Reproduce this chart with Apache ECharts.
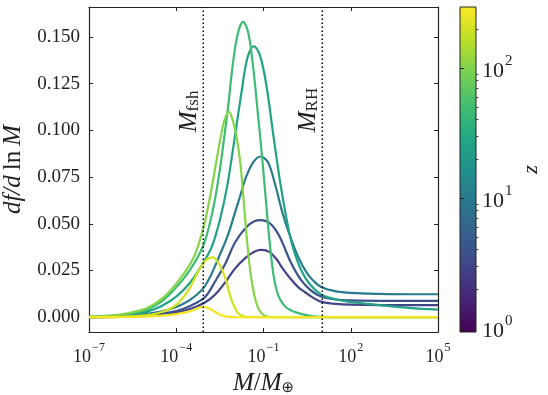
<!DOCTYPE html>
<html>
<head>
<meta charset="utf-8">
<script src="https://cdn.jsdelivr.net/npm/echarts@6/dist/echarts.min.js"></script>
<style>
  html, body { margin: 0; padding: 0; background: #fff; }
  #chart { width: 548px; height: 395px; }
</style>
</head>
<body>
<div id="chart"></div>
<script>
// curves: [log10(M/Mearth), df/dlnM], one per redshift
const yellow = [[-7, 0], [-6, 0.0001], [-5, 0.0004], [-4.5, 0.0009], [-4, 0.0017], [-3.5, 0.0033], [-3.25, 0.0049], [-3.05, 0.0055], [-2.85, 0.0046], [-2.65, 0.0027], [-2.45, 0.0011], [-2.25, 0.0003], [-2.0, 0], [5, 0]]
const yellowGreen = [[-7, 0], [-6, 0.0002], [-5, 0.0011], [-4.5, 0.0028], [-4, 0.0066], [-3.6, 0.014], [-3.36, 0.021], [-3.15, 0.027], [-2.95, 0.031], [-2.74, 0.032], [-2.55, 0.029], [-2.33, 0.0217], [-2.1, 0.0093], [-1.88, 0.0023], [-1.65, 0.0003], [-1.4, 0], [5, 0]]
const lightGreen = [[-7, 0.0003], [-6, 0.0013], [-5.5, 0.0027], [-5, 0.005], [-4.5, 0.0098], [-4, 0.018], [-3.5, 0.029], [-3.25, 0.038], [-3, 0.052], [-2.75, 0.072], [-2.5, 0.094], [-2.35, 0.105], [-2.19, 0.110], [-2.05, 0.105], [-1.92, 0.096], [-1.8, 0.083], [-1.68, 0.062], [-1.56, 0.040], [-1.45, 0.024], [-1.32, 0.012], [-1.2, 0.0055], [-1.05, 0.0018], [-0.9, 0.0005], [-0.7, 0.0001], [-0.4, 0], [5, 0]]
const green = [[-7, 0.0002], [-6, 0.001], [-5.5, 0.0022], [-5, 0.0042], [-4.5, 0.0085], [-4, 0.016], [-3.5, 0.026], [-3.08, 0.038], [-2.85, 0.05], [-2.67, 0.063], [-2.5, 0.079], [-2.36, 0.095], [-2.2, 0.115], [-2.05, 0.136], [-1.88, 0.152], [-1.7, 0.158], [-1.52, 0.152], [-1.35, 0.133], [-1.2, 0.11], [-1.05, 0.086], [-0.92, 0.063], [-0.8, 0.042], [-0.65, 0.022], [-0.5, 0.012], [-0.3, 0.0065], [-0.1, 0.004], [0.2, 0.0022], [0.6, 0.0008], [1, 0.0002], [1.5, 0], [5, 0]]
const tealGreen = [[-7, 0.0001], [-6, 0.0007], [-5.5, 0.0015], [-5, 0.003], [-4.5, 0.006], [-4, 0.011], [-3.5, 0.019], [-3, 0.031], [-2.77, 0.038], [-2.5, 0.052], [-2.25, 0.07], [-2, 0.095], [-1.75, 0.121], [-1.55, 0.139], [-1.33, 0.145], [-1.12, 0.14], [-0.9, 0.124], [-0.64, 0.095], [-0.44, 0.0735], [-0.2, 0.052], [0, 0.038], [0.3, 0.025], [0.6, 0.0175], [1, 0.012], [1.5, 0.0095], [2, 0.0082], [2.5, 0.0073], [3, 0.0065], [3.5, 0.0057], [4, 0.005], [4.5, 0.0045], [5, 0.0041]]
const teal = [[-7, 0.0001], [-6, 0.0005], [-5.5, 0.001], [-5, 0.0018], [-4.5, 0.0032], [-4, 0.0055], [-3.5, 0.0095], [-3, 0.017], [-2.43, 0.036], [-2.2, 0.045], [-2, 0.055], [-1.8, 0.065], [-1.6, 0.075], [-1.35, 0.083], [-1.1, 0.086], [-0.85, 0.083], [-0.6, 0.071], [-0.35, 0.056], [-0.1, 0.044], [0.2, 0.032], [0.5, 0.0235], [0.75, 0.019], [1, 0.016], [1.5, 0.0138], [2, 0.013], [3, 0.0125], [4, 0.0123], [5, 0.0123]]
const blue = [[-7, 0], [-6, 0.0003], [-5.5, 0.0006], [-5, 0.001], [-4.5, 0.0019], [-4, 0.0033], [-3.5, 0.0062], [-3, 0.011], [-2.67, 0.019], [-2.3, 0.029], [-1.98, 0.040], [-1.6, 0.048], [-1.3, 0.0515], [-1.07, 0.052], [-0.8, 0.0505], [-0.55, 0.046], [-0.38, 0.041], [-0.08, 0.03], [0.2, 0.022], [0.42, 0.0175], [0.7, 0.0135], [1, 0.011], [1.5, 0.0095], [2, 0.009], [3, 0.0088], [4, 0.0088], [5, 0.0088]]
const indigo = [[-7, 0], [-6, 0.0002], [-5.5, 0.0004], [-5, 0.0007], [-4.5, 0.0013], [-4, 0.0024], [-3.5, 0.0045], [-3, 0.008], [-2.67, 0.012], [-2.3, 0.019], [-1.98, 0.026], [-1.6, 0.032], [-1.3, 0.0352], [-1.07, 0.036], [-0.8, 0.035], [-0.55, 0.031], [-0.38, 0.027], [-0.09, 0.021], [0.2, 0.016], [0.42, 0.0135], [0.7, 0.0105], [1, 0.0082], [1.5, 0.0071], [2, 0.0067], [3, 0.0065], [4, 0.0065], [5, 0.0065]]

const xTicks = [1e-7, 1e-4, 1e-1, 1e2, 1e5]
const yTicks = [0, 0.025, 0.05, 0.075, 0.1, 0.125, 0.15]
const zTicks = [1, 10, 100]
const zMinorTicks = [2, 3, 4, 5, 6, 7, 8, 9, 20, 30, 40, 50, 60, 70, 80, 90, 200]

const M_FSH = 8.5e-4
const M_RH = 10.5
const Y_MIN = -0.0079
const Y_MAX = 0.166

const viridis = ['#440154', '#482475', '#414487', '#355f8d', '#2a788e', '#21918c', '#22a884', '#44bf70', '#7ad151', '#bddf26', '#fde725']

const FONT = 'Liberation Serif'

const curves = [
  { data: indigo, color: '#414487' },
  { data: blue, color: '#3b528b' },
  { data: teal, color: '#297b8e' },
  { data: tealGreen, color: '#20a386' },
  { data: green, color: '#3dbc74' },
  { data: lightGreen, color: '#86d549' },
  { data: yellowGreen, color: '#d2e21b' },
  { data: yellow, color: '#f5e61f' }
]

function pow10(v) {
  const e = Math.round(Math.log10(v))
  return '{b|10}{e|' + String(e).replace('-', '\u2212') + '}'
}

const chart = echarts.init(document.getElementById('chart'), null, { renderer: 'canvas' })

const supRich = size => ({
  b: { fontFamily: FONT, fontSize: size, color: '#222', verticalAlign: 'bottom', lineHeight: size + 6 },
  e: { fontFamily: FONT, fontSize: Math.round(size * 0.68), color: '#222', verticalAlign: 'top', lineHeight: size + 6, padding: [0, 0, 0, 1] }
})

const series = curves.map((c, i) => ({
  type: 'line',
  xAxisIndex: 0,
  yAxisIndex: 0,
  data: c.data.map(p => [Math.pow(10, p[0]), p[1]]),
  showSymbol: false,
  smooth: 0.35,
  lineStyle: { color: c.color, width: 2.2 },
  silent: true,
  z: 2 + i
}))

// dotted vertical lines at the two characteristic masses
;[M_FSH, M_RH].forEach(m => {
  series.push({
    type: 'line',
    xAxisIndex: 0,
    yAxisIndex: 0,
    data: [[m, Y_MIN], [m, Y_MAX]],
    showSymbol: false,
    silent: true,
    lineStyle: { color: '#000', type: [1.5, 2.5], width: 1.5 },
    z: 20
  })
})

const frameLine = { show: true, onZero: false, lineStyle: { color: '#222', width: 1.2 } }

chart.setOption({
  animation: false,
  backgroundColor: '#fff',
  grid: [
    { left: 89, right: 110, top: 7, bottom: 63, outerBoundsMode: 'none', containLabel: false },
    {
      left: 460, width: 16, top: 7, bottom: 63, show: true, outerBoundsMode: 'none', containLabel: false,
      borderColor: '#222', borderWidth: 1,
      backgroundColor: new echarts.graphic.LinearGradient(0, 1, 0, 0,
        viridis.map((c, i) => ({ offset: i / (viridis.length - 1), color: c })))
    }
  ],
  xAxis: [
    {
      type: 'log', gridIndex: 0, min: 1e-7, max: 1e5, position: 'bottom',
      name: '{i|M}{r|/}{i|M}{s|\u2295}', nameLocation: 'middle', nameGap: 34,
      nameTextStyle: {
        rich: {
          i: { fontFamily: FONT, fontStyle: 'italic', fontSize: 25, color: '#222' },
          r: { fontFamily: FONT, fontSize: 25, color: '#222' },
          s: { fontFamily: 'DejaVu Sans', fontSize: 15, color: '#222', verticalAlign: 'bottom', padding: [9, 0, 0, 0] }
        }
      },
      axisLine: frameLine,
      axisTick: { show: true, inside: true, length: 4, customValues: xTicks, lineStyle: { color: '#222', width: 1 } },
      axisLabel: { customValues: xTicks, margin: 10, formatter: pow10, rich: supRich(18) },
      splitLine: { show: false },
      minorTick: { show: false }
    },
    {
      type: 'log', gridIndex: 0, min: 1e-7, max: 1e5, position: 'top',
      axisLine: frameLine,
      axisTick: { show: true, inside: true, length: 4, customValues: xTicks, lineStyle: { color: '#222', width: 1 } },
      axisLabel: { show: false },
      splitLine: { show: false }
    },
    { type: 'value', gridIndex: 1, show: false, min: 0, max: 1 }
  ],
  yAxis: [
    {
      type: 'value', gridIndex: 0, min: Y_MIN, max: Y_MAX, position: 'left',
      name: '{i|df/d}{r|\u2009ln\u2009}{i|M}', nameLocation: 'middle', nameGap: 61, nameRotate: 90,
      nameTextStyle: {
        rich: {
          i: { fontFamily: FONT, fontStyle: 'italic', fontSize: 25, color: '#222' },
          r: { fontFamily: FONT, fontSize: 25, color: '#222' }
        }
      },
      axisLine: frameLine,
      axisTick: { show: true, inside: true, length: 4, customValues: yTicks, lineStyle: { color: '#222', width: 1 } },
      axisLabel: { customValues: yTicks, margin: 9, fontFamily: FONT, fontSize: 19, color: '#222', formatter: v => v.toFixed(3) },
      splitLine: { show: false }
    },
    {
      type: 'value', gridIndex: 0, min: Y_MIN, max: Y_MAX, position: 'right',
      axisLine: frameLine,
      axisTick: { show: true, inside: true, length: 4, customValues: yTicks, lineStyle: { color: '#222', width: 1 } },
      axisLabel: { show: false },
      splitLine: { show: false }
    },
    {
      type: 'log', gridIndex: 1, min: 0.93, max: 295, position: 'right',
      name: 'z', nameLocation: 'middle', nameGap: 44, nameRotate: 90,
      nameTextStyle: { fontFamily: FONT, fontStyle: 'italic', fontSize: 22, color: '#222' },
      axisLine: { show: false },
      axisTick: { show: true, inside: false, length: 4, customValues: zTicks, lineStyle: { color: '#222', width: 1 } },
      axisLabel: { customValues: zTicks, margin: 6, formatter: pow10, rich: supRich(22) },
      splitLine: { show: false }
    },
    {
      type: 'log', gridIndex: 1, min: 0.93, max: 295, position: 'right',
      axisLine: { show: false },
      axisTick: { show: true, inside: false, length: 2.5, customValues: zMinorTicks, lineStyle: { color: '#222', width: 0.8 } },
      axisLabel: { show: false },
      splitLine: { show: false }
    }
  ],
  series: series
})

// vertical labels next to the characteristic-mass lines
const labelY = chart.convertToPixel({ yAxisIndex: 0 }, 0.099)
const massLabel = (m, sub) => ({
  type: 'text',
  x: chart.convertToPixel({ xAxisIndex: 0 }, m) - 1,
  y: labelY,
  rotation: Math.PI / 2,
  silent: true,
  style: {
    text: '{m|M}{s|' + sub + '}',
    align: 'left',
    verticalAlign: 'bottom',
    rich: {
      m: { fontFamily: FONT, fontStyle: 'italic', fontSize: 25, fill: '#222', verticalAlign: 'bottom' },
      s: { fontFamily: FONT, fontSize: 17, fill: '#222', verticalAlign: 'bottom' }
    }
  }
})

chart.setOption({
  graphic: [massLabel(M_FSH, 'fsh'), massLabel(M_RH, 'RH')]
})
</script>
</body>
</html>
